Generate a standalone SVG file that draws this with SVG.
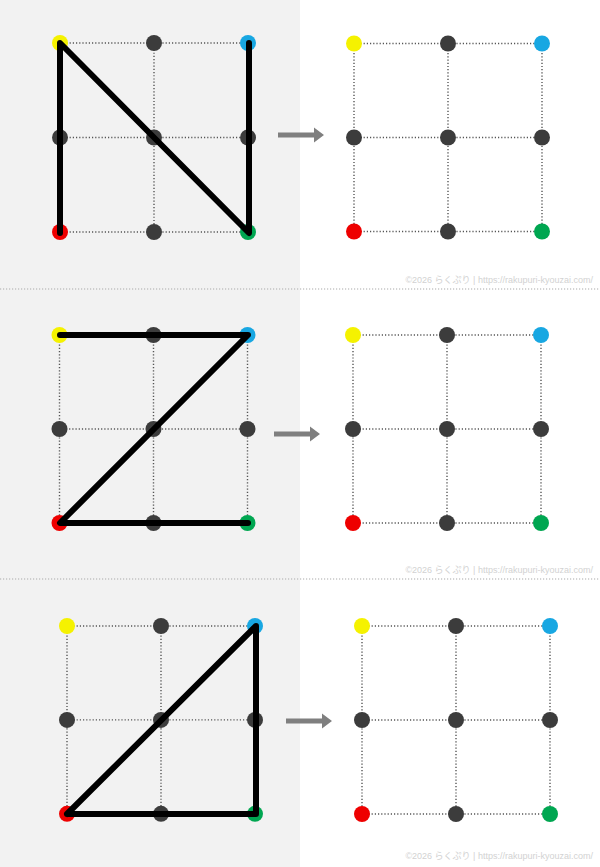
<svg xmlns="http://www.w3.org/2000/svg" width="600" height="867" viewBox="0 0 600 867">
<style>
.grid{stroke:#555;stroke-width:1.4;stroke-dasharray:1.2 2;fill:none}
.sep{stroke:#aaa;stroke-width:1.2;stroke-dasharray:1.2 1.8}
.dk{fill:#3c3c3c}.y{fill:#f5f200}.b{fill:#18a7e2}.r{fill:#ee0000}.g{fill:#00a651}
.stroke{stroke:#000;stroke-width:6;fill:none;stroke-linecap:round;stroke-linejoin:round}
.arr{fill:#7f7f7f}
.wm{font-family:"Liberation Sans","Noto Sans CJK JP",sans-serif;font-size:9px;fill:#d2d2d2}
</style>
<defs>
<g id="grid">
<path class="grid" d="M0 0H188M0 94H188M0 188H188M0 0V188M94 0V188M188 0V188"/>
</g>
<g id="dots">
<circle class="y" cx="0" cy="0" r="8"/><circle class="dk" cx="94" cy="0" r="8"/><circle class="b" cx="188" cy="0" r="8"/>
<circle class="dk" cx="0" cy="94" r="8"/><circle class="dk" cx="94" cy="94" r="8"/><circle class="dk" cx="188" cy="94" r="8"/>
<circle class="r" cx="0" cy="188" r="8"/><circle class="dk" cx="94" cy="188" r="8"/><circle class="g" cx="188" cy="188" r="8"/>
</g>
<path id="arrow" class="arr" d="M0 -2.5H36V-7.5L46 0L36 7.5V2.5H0Z"/>
</defs>
<rect x="0" y="0" width="300" height="867" fill="#f2f2f2"/>
<g id="separators">
<line class="sep" x1="0" y1="289" x2="600" y2="289"/>
<line class="sep" x1="0" y1="579" x2="600" y2="579"/>
</g>
<g id="panel1-left" transform="translate(60,43) scale(1,1.005)">
<use href="#grid"/><use href="#dots"/>
</g>
<g id="panel1-right" transform="translate(354,43.5)">
<use href="#grid"/><use href="#dots"/>
</g>
<g id="panel2-left" transform="translate(59.5,335)">
<use href="#grid"/><use href="#dots"/>
</g>
<g id="panel2-right" transform="translate(353,335)">
<use href="#grid"/><use href="#dots"/>
</g>
<g id="panel3-left" transform="translate(67,626) scale(1,0.999)">
<use href="#grid"/><use href="#dots"/>
</g>
<g id="panel3-right" transform="translate(362,626)">
<use href="#grid"/><use href="#dots"/>
</g>
<g id="connectors">
<polyline class="stroke" points="60,233 60,43 249,233 249,43"/>
<polyline class="stroke" points="60,335 248,335 60,523 248,523"/>
<polyline class="stroke" points="67,814 256,814 256,626 67,814"/>
<use href="#arrow" x="278" y="135"/>
<use href="#arrow" x="274" y="434"/>
<use href="#arrow" x="286" y="721"/>
</g>
<g id="watermarks">
<text class="wm" x="593" y="283" text-anchor="end">©2026 らくぷり | https://rakupuri-kyouzai.com/</text>
<text class="wm" x="593" y="573" text-anchor="end">©2026 らくぷり | https://rakupuri-kyouzai.com/</text>
<text class="wm" x="593" y="859" text-anchor="end">©2026 らくぷり | https://rakupuri-kyouzai.com/</text>
</g>
</svg>
